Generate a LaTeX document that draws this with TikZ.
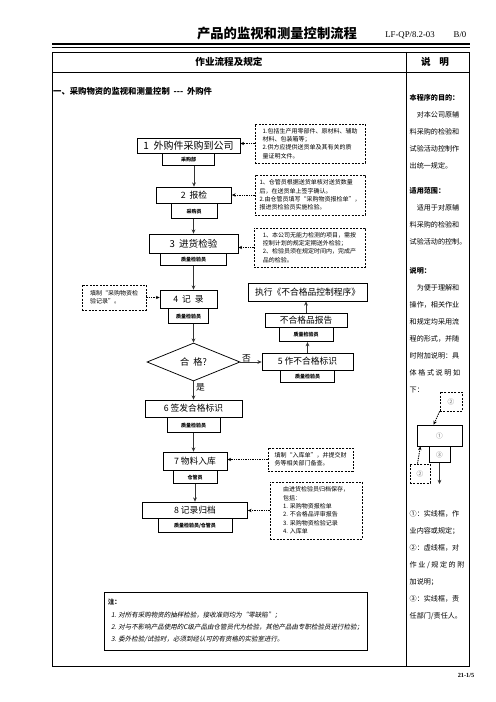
\documentclass[tikz,border=0pt]{standalone}
\usepackage{fontspec}
\setmainfont{Noto Sans CJK SC}
\newfontfamily\latinserif{Liberation Serif}
\newfontfamily\cjkslant[FakeSlant=0.2]{Noto Sans CJK SC}
\usetikzlibrary{shapes.geometric, arrows.meta, positioning}

\newcommand{\pxu}{1.2pt}

\begin{document}
\begin{tikzpicture}[
  x=1.2pt, y=-1.2pt,
  stepbox/.style={rectangle, draw, line width=0.9pt, inner sep=0pt, text centered, font=\fontsize{10.5}{12}\selectfont},
  resp/.style={rectangle, draw, line width=0.9pt, inner sep=0pt, text centered, font=\fontsize{6}{7}\selectfont\bfseries},
  decide/.style={diamond, draw, line width=0.9pt, inner sep=0pt, font=\fontsize{11}{13}\selectfont},
  hintbox/.style={rectangle, draw, dash pattern=on 2.4pt off 1.6pt, line width=0.9pt, inner sep=2pt, align=left, font=\fontsize{7.2}{10}\selectfont},
  flow/.style={-{Stealth[length=5pt, width=4.5pt]}, line width=1.1pt, black!80},
  hint/.style={-{Stealth[length=4.5pt, width=4pt]}, dash pattern=on 1.6pt off 1.2pt, line width=1.1pt},
  sidetext/.style={anchor=north west, inner sep=0pt, align=left, font=\fontsize{8.5}{20.4}\selectfont},
  lbl/.style={inner sep=0pt, font=\fontsize{10.5}{12}\selectfont},
  legendmark/.style={font=\fontsize{8}{9}\selectfont, text=black!55},
]
\useasboundingbox (0,0) rectangle (496,702);

% Title block
\node[font=\bfseries\fontsize{16}{18}\selectfont] (title) at (277,33) {产品的监视和测量控制流程};
\node[font=\latinserif\fontsize{10.5}{12}\selectfont] (docno) at (410,35) {LF-QP/8.2-03};
\node[font=\latinserif\fontsize{10.5}{12}\selectfont] (rev) at (460,35) {B/0};
\draw[line width=2.4pt] (52,44) -- (470,44);
\draw[line width=0.8pt] (52,47.6) -- (470,47.6);

% Table frame
\draw[line width=0.9pt] (52,52) rectangle (469,666);
\draw[line width=0.9pt] (52,72) -- (469,72);
\draw[line width=0.9pt] (406,52) -- (406,666);
\node[font=\bfseries\fontsize{11.5}{13}\selectfont] (hdflow) at (229,62) {作业流程及规定};
\node[font=\bfseries\fontsize{11.5}{13}\selectfont] (hdnote) at (435,62) {说\hspace{0.9em}明};
\node[anchor=west, inner sep=0pt, font=\bfseries\fontsize{10}{12}\selectfont] (sec) at (53,91) {一、采购物资的监视和测量控制\ \ -{}-{}-\ \ 外购件};

% Main flow
\node[stepbox, minimum width=103*\pxu, minimum height=15*\pxu, font=\fontsize{12}{14}\selectfont] (arrive) at (188.5,145.5) {1\ \ 外购件采购到公司};
\node[resp, minimum width=52*\pxu, minimum height=12*\pxu, below=0pt of arrive] (arriver) {采购部};

\node[stepbox, minimum width=75*\pxu, minimum height=16*\pxu] (apply) at (194,195) {2\ \ 报检};
\node[resp, minimum width=46*\pxu, minimum height=15*\pxu, below=0pt of apply] (applyr) {采购员};

\node[stepbox, minimum width=89*\pxu, minimum height=19*\pxu, font=\fontsize{11.5}{13}\selectfont] (check) at (193.5,243.5) {3\ \ 进货检验};
\node[resp, minimum width=66*\pxu, minimum height=12*\pxu, below=0pt of check] (checkr) {质量检验员};

\node[stepbox, minimum width=57*\pxu, minimum height=18*\pxu] (record) at (188.5,299) {4\ \ 记\ \ 录};
\node[resp, minimum width=40*\pxu, minimum height=15*\pxu, below=0pt of record] (recordr) {质量检验员};

\node[decide, minimum width=93*\pxu, minimum height=38*\pxu] (pass) at (193.5,362) {合\ \ 格?};

\node[stepbox, minimum width=97*\pxu, minimum height=17*\pxu] (release) at (193.5,408.5) {6 签发合格标识};
\node[resp, minimum width=53*\pxu, minimum height=15*\pxu, below=0pt of release] (releaser) {质量检验员};

\node[stepbox, minimum width=64*\pxu, minimum height=18*\pxu] (store) at (195,461) {7 物料入库};
\node[resp, minimum width=44*\pxu, minimum height=13*\pxu, below=0pt of store] (storer) {仓管员};

\node[stepbox, minimum width=105*\pxu, minimum height=16*\pxu] (file) at (195,510) {8 记录归档};
\node[resp, minimum width=74*\pxu, minimum height=14*\pxu, below=0pt of file] (filer) {质量检验员/仓管员};

% Nonconforming branch
\node[stepbox, minimum width=91*\pxu, minimum height=17*\pxu] (nonmark) at (307.5,361.5) {5 作不合格标识};
\node[resp, minimum width=54*\pxu, minimum height=12*\pxu, below=0pt of nonmark] (nonmarkr) {质量检验员};
\node[stepbox, minimum width=82*\pxu, minimum height=14*\pxu] (ncr) at (306,320) {不合格品报告};
\node[resp, minimum width=54*\pxu, minimum height=14*\pxu, below=0pt of ncr] (ncrr) {质量检验员};
\node[stepbox, minimum width=119*\pxu, minimum height=18*\pxu] (proc) at (307.5,292) {执行《不合格品控制程序》};

% Arrows
\draw[flow] (arriver.south -| apply.north) -- (apply.north);
\draw[flow] (applyr.south -| check.north) -- (check.north);
\draw[flow] (checkr.south) -- (checkr.south |- record.north);
\draw[flow] (recordr.south -| pass.north) -- (pass.north);
\draw[flow] (pass.south) -- (release.north);
\draw[flow] (releaser.south) -- (releaser.south |- store.north);
\draw[flow] (storer.south) -- (storer.south |- file.north);
\draw[flow] (pass.east) -- (pass.east -| nonmark.west);
\draw[flow] (nonmark.north) -- (nonmark.north |- ncrr.south);
\draw[flow] (ncr.north) -- (ncr.north |- proc.south);
\node[lbl, above right=0pt and 2pt of pass.east] (no) {否};
\node[lbl, below right=2pt and 3pt of pass.south] (yes) {是};

% Remarks
\node[hintbox, minimum width=110*\pxu, minimum height=39*\pxu] (arrivenote) at (310,143.5) {1.包括生产用零部件、原材料、辅助\\材料、包装箱等；\\2.供方应提供送货单及其有关的质\\量证明文件。};
\node[hintbox, minimum width=110*\pxu, minimum height=40*\pxu] (applynote) at (310,195) {1、仓管员根据送货单核对送货数量\\后，在送货单上签字确认。\\2.由仓管员填写“采购物资报检单”，\\报进货检验员实施检验。};
\node[hintbox, minimum width=111*\pxu, minimum height=39*\pxu] (checknote) at (309.5,247.5) {1、本公司无能力检测的项目，需按\\控制计划的规定定期送外检验；\\2、检验员须在规定时间内，完成产\\品的检验。};
\node[hintbox, minimum width=64*\pxu, minimum height=25*\pxu] (recordnote) at (114,297.5) {填制“采购物资检\\验记录”。};
\node[hintbox, minimum width=85*\pxu, minimum height=23*\pxu] (storenote) at (310.5,459.5) {填制“入库单”，并提交财\\务等相关部门备查。};
\node[hintbox, minimum width=92*\pxu, minimum height=57*\pxu] (filenote) at (316,510.5) {由进货检验员归档保存，\\包括：\\1. 采购物资报检单\\2. 不合格品评审报告\\3. 采购物资检验记录\\4. 入库单};

\draw[hint] (arrivenote.west) -- (arrivenote.west -| arrive.east);
\draw[hint] (applynote.west) -- (applynote.west -| apply.east);
\draw[hint] (checknote.west) -- (checknote.west -| check.east);
\draw[hint] (recordnote.east) -- (recordnote.east -| record.west);
\draw[hint] (storenote.west) -- (storenote.west -| store.east);
\draw[hint] (filenote.west) -- (filenote.west -| file.east);

% Footnote box
\node[draw, line width=0.9pt, minimum width=263*\pxu, minimum height=58*\pxu, align=left, inner sep=0pt, font=\fontsize{7.8}{14.8}\selectfont] (memo) at (235.5,621) {\textbf{注：}\\\hspace*{0.5em}{\cjkslant 1. 对所有采购物资的抽样检验，接收准则均为“零缺陷”；}\\\hspace*{0.5em}{\cjkslant 2. 对与不影响产品使用的C级产品由仓管员代为检验，其他产品由专职检验员进行检验；}\\\hspace*{0.5em}{\cjkslant 3. 委外检验/试验时，必须到经认可的有资格的实验室进行。}};

% Right column
\node[sidetext] (purpose) at (409.5,93.8) {\textbf{本程序的目的：}\\\hspace*{1em}对本公司原辅\\料采购的检验和\\试验活动控制作\\出统一规定。};
\node[sidetext] (scope) at (409.5,186.8) {\textbf{适用范围：}\\\hspace*{1em}适用于对原辅\\料采购的检验和\\试验活动的控制。};
\node[sidetext] (explain) at (409.5,266.8) {\textbf{说明：}\\\hspace*{1em}为便于理解和\\操作，相关作业\\和规定均采用流\\程的形式，并随\\时附加说明：具\\体 格 式 说 明 如\\下：};
\node[sidetext] (legendtext) at (409.5,510.8) {①：实线框，作\\业内容或规定；\\②：虚线框，对\\作 业 / 规 定 的 附\\加说明；\\③：实线框，责\\任部门/责任人。};

% Legend sketch
\node[hintbox, legendmark, minimum width=22*\pxu, minimum height=19*\pxu] (lgnotea) at (451,401.5) {②};
\node[stepbox, legendmark, minimum width=45*\pxu, minimum height=21*\pxu] (lgmain) at (439.5,435.5) {①};
\node[resp, legendmark, minimum width=21*\pxu, minimum height=16*\pxu, below=0pt of lgmain] (lgresp) {③};
\node[hintbox, legendmark, minimum width=20*\pxu, minimum height=19*\pxu] (lgnoteb) at (420,473.5) {②};
\coordinate (lgend) at (440,484);
\draw[flow] (lgresp.south) -- (lgresp.south |- lgend);
\draw[hint] (lgnotea.south west) -- ([xshift=-7pt]lgmain.north);
\draw[hint] ([xshift=-3pt]lgnoteb.north) -- ([xshift=4.5pt]lgmain.south west);

\node[font=\latinserif\bfseries\fontsize{7.5}{9}\selectfont] (pageno) at (466,675) {21-1/5};
\end{tikzpicture}
\end{document}
